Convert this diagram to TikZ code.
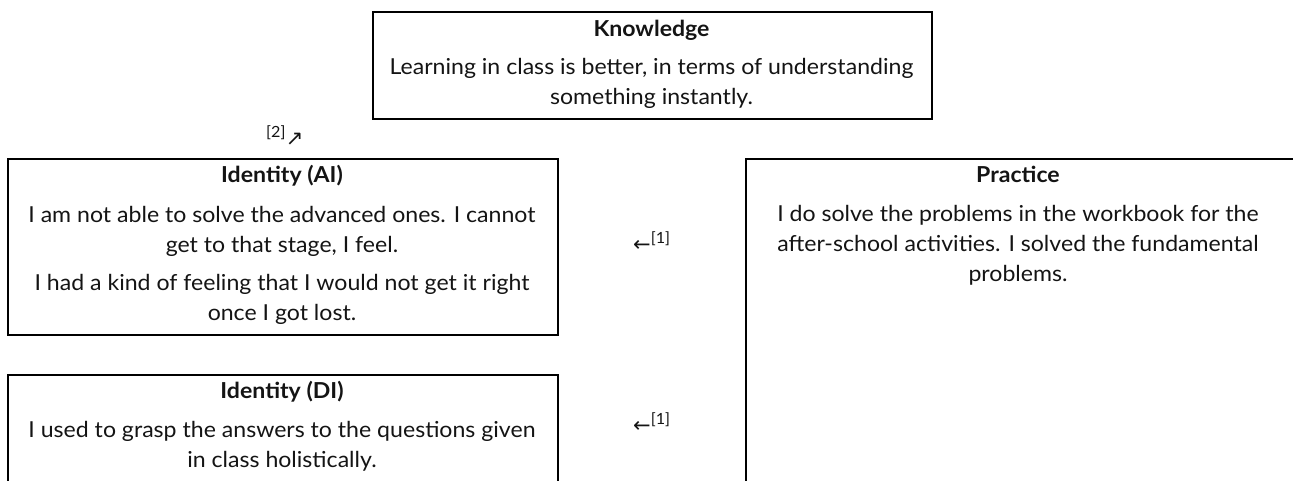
\documentclass[tikz,border=0pt]{standalone}
\usepackage{fontspec}
\setmainfont{Lato}[FakeStretch=1.05]
\newfontfamily\arrowfont{DejaVu Sans}
\usetikzlibrary{positioning}

\definecolor{mapink}{HTML}{000000}
\definecolor{maptext}{HTML}{141414}

\begin{document}
\begin{tikzpicture}[
  x=1pt,y=-1pt,
  font=\fontsize{22}{30}\selectfont,
  frame/.style={draw=mapink,line width=1.5pt,inner sep=0pt,anchor=north west},
  head/.style={font=\bfseries\fontsize{22}{30}\selectfont,text=maptext,
               inner sep=0pt,anchor=base},
  body/.style={text=maptext,align=center,inner sep=0pt,anchor=north,
               execute at begin node=\strut},
  reflabel/.style={text=maptext,inner sep=0pt,anchor=base west}
]
  \clip (0,0) rectangle (1293,480);
  \path[use as bounding box] (0,0) rectangle (1293,480);
  % frames, given by top-left corner and size
  \foreach \name/\x/\y/\w/\h in {know/372/11/559/107,idai/7/158/550/176,
                                 iddi/7/374/550/140,prac/745/158/560/350}{
    \node[frame,minimum width=\w pt,minimum height=\h pt] (\name) at (\x,\y) {};
  }
  % titles
  \foreach \name/\x/\y/\head in {knowT/651.5/36/Knowledge,idaiT/282/182/Identity (AI),
                                 iddiT/282/398/Identity (DI),pracT/1018/182/Practice}{
    \node[head] (\name) at (\x,\y) {\head};
  }
  \node[body] (knowB) at (651.5,58)
    {Learning in class is better, in terms of understanding\\something instantly.};
  \node[body] (idaiB) at (282,206)
    {I am not able to solve the advanced ones. I cannot\\get to that stage, I feel.\\[8pt]
     I had a kind of feeling that I would not get it right\\once I got lost.};
  \node[body] (iddiB) at (282,421)
    {I used to grasp the answers to the questions given\\in class holistically.};
  \node[body] (pracB) at (1018,205)
    {I do solve the problems in the workbook for the\\after-school activities. I solved the fundamental\\problems.};
  % reference marks between the frames
  \node[reflabel] (refK) at (266,145) {\textsuperscript{[2]}{\arrowfont\fontsize{21}{24}\selectfont ↗}};
  \node[reflabel] (refA) at (633,251) {{\arrowfont\fontsize{21}{24}\selectfont ←}\textsuperscript{[1]}};
  \node[reflabel] (refD) at (633,432) {{\arrowfont\fontsize{21}{24}\selectfont ←}\textsuperscript{[1]}};
\end{tikzpicture}
\end{document}
